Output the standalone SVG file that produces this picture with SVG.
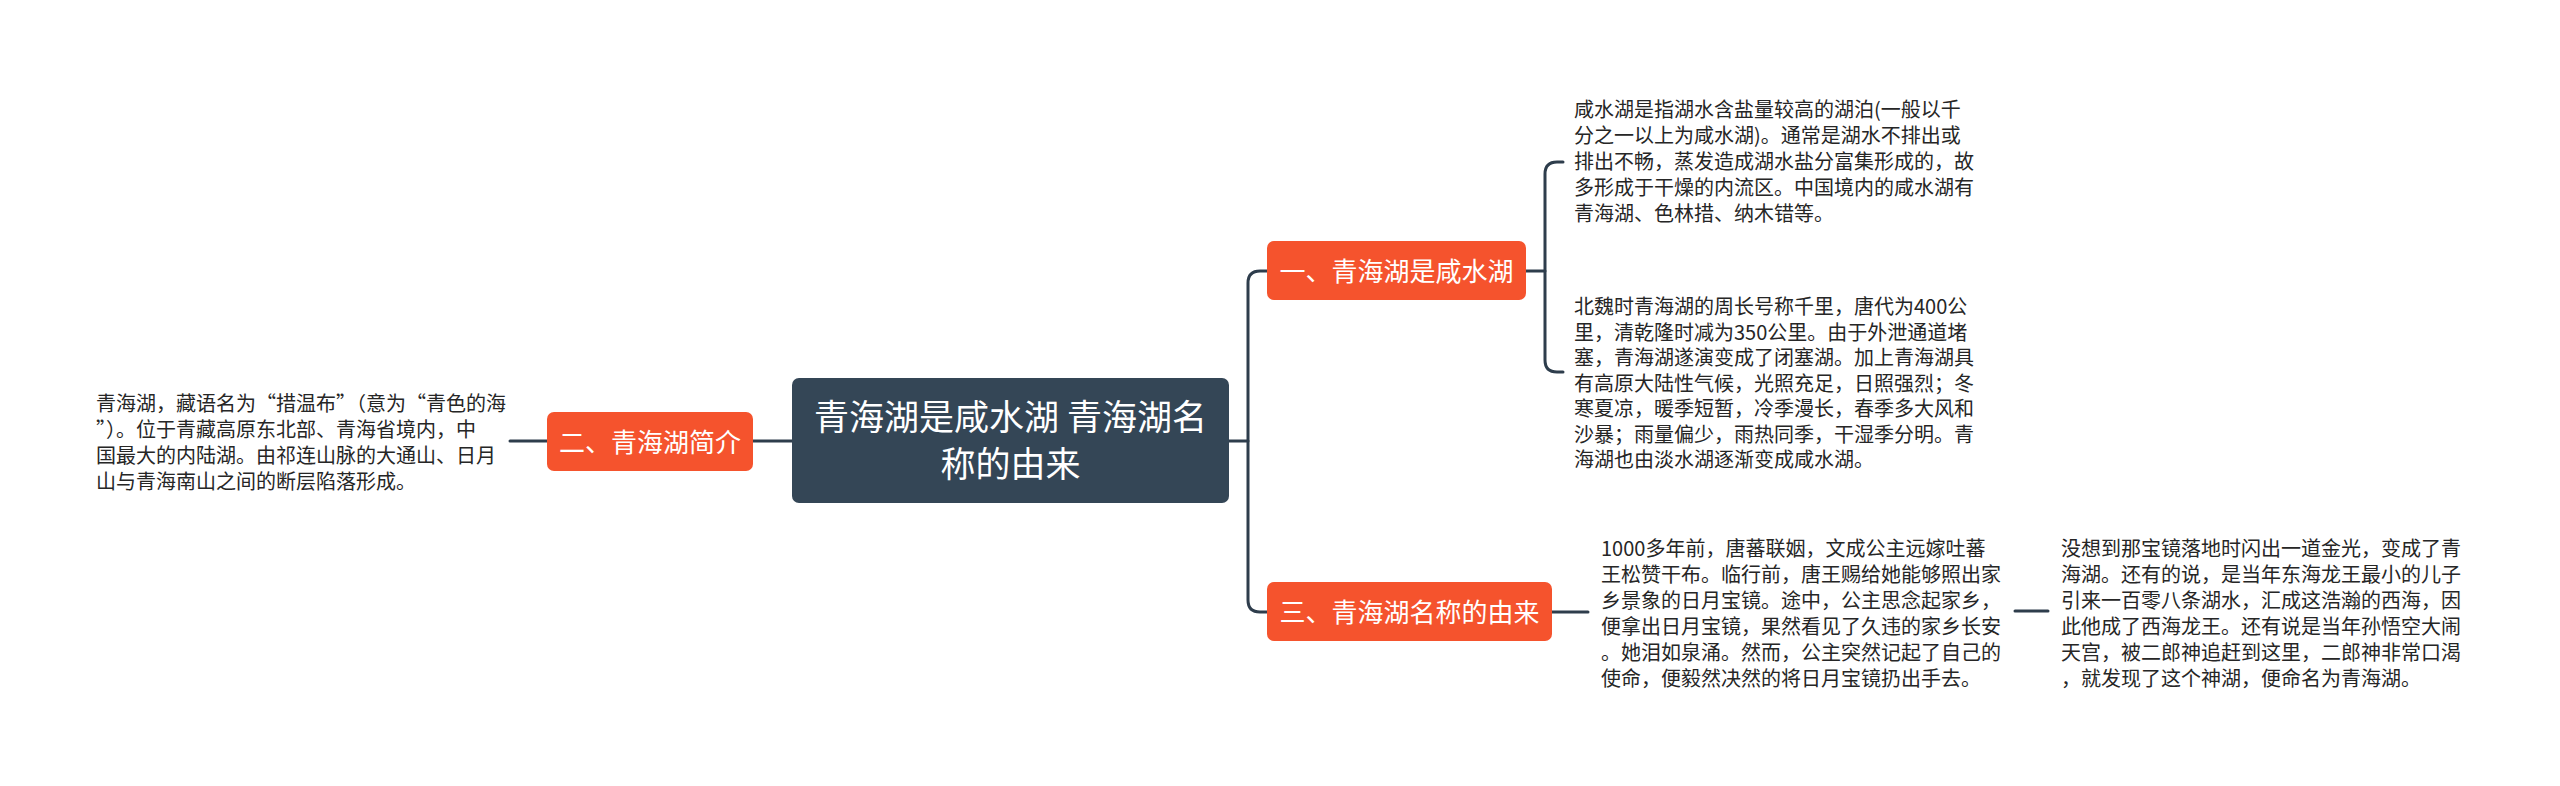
<svg xmlns="http://www.w3.org/2000/svg" width="2560" height="786" viewBox="0 0 2560 786">
<style>
.ln{fill:none;stroke:#2e3d4c;stroke-width:3;stroke-linecap:round}
.org{fill:#f5532d}
.lbl{font-family:"Noto Sans CJK SC","Noto Sans",sans-serif;font-size:26px;fill:#ffffff;text-anchor:middle}
.ctr{font-family:"Noto Sans CJK SC","Noto Sans",sans-serif;font-size:35px;fill:#ffffff;text-anchor:middle}
.txt{font-family:"Noto Sans CJK SC","Noto Sans",sans-serif;font-size:20px;fill:#262626}
</style>
<rect width="2560" height="786" fill="#ffffff"/>
<g id="connectors">
<path class="ln" d="M753,441 H792"/>
<path class="ln" d="M547,441 H510"/>
<path class="ln" d="M1229,441 H1248"/>
<path class="ln" d="M1267,271 H1260 Q1248,271 1248,283 V600 Q1248,612 1260,612 H1267"/>
<path class="ln" d="M1526,271 H1545"/>
<path class="ln" d="M1563,162 H1557 Q1545,162 1545,174 V360 Q1545,372 1557,372 H1563"/>
<path class="ln" d="M1552,612 H1588"/>
<path class="ln" d="M2015,611 H2048"/>
</g>
<g id="central">
<rect x="792" y="378" width="437" height="125" rx="7" fill="#344656"/>
<text class="ctr" x="1010.5" y="430">青海湖是咸水湖 青海湖名</text>
<text class="ctr" x="1010.5" y="477">称的由来</text>
</g>
<g id="node1">
<rect class="org" x="1267" y="241" width="259" height="59" rx="7"/>
<text class="lbl" x="1396.5" y="280.5">一、青海湖是咸水湖</text>
</g>
<g id="node2">
<rect class="org" x="547" y="412" width="206" height="59" rx="7"/>
<text class="lbl" x="650" y="451.5">二、青海湖简介</text>
</g>
<g id="node3">
<rect class="org" x="1267" y="582" width="285" height="59" rx="7"/>
<text class="lbl" x="1409.5" y="621.5">三、青海湖名称的由来</text>
</g>
<g id="text-intro">
<text class="txt" x="96" y="410.6">青海湖，藏语名为“措温布”（意为“青色的海</text>
<text class="txt" x="96" y="436.6">”）。位于青藏高原东北部、青海省境内，中</text>
<text class="txt" x="96" y="462.6">国最大的内陆湖。由祁连山脉的大通山、日月</text>
<text class="txt" x="96" y="488.6">山与青海南山之间的断层陷落形成。</text>
</g>
<g id="text-salt1">
<text class="txt" x="1574" y="117">咸水湖是指湖水含盐量较高的湖泊(一般以千</text>
<text class="txt" x="1574" y="143">分之一以上为咸水湖)。通常是湖水不排出或</text>
<text class="txt" x="1574" y="169">排出不畅，蒸发造成湖水盐分富集形成的，故</text>
<text class="txt" x="1574" y="195">多形成于干燥的内流区。中国境内的咸水湖有</text>
<text class="txt" x="1574" y="221">青海湖、色林措、纳木错等。</text>
</g>
<g id="text-salt2">
<text class="txt" x="1574" y="314">北魏时青海湖的周长号称千里，唐代为400公</text>
<text class="txt" x="1574" y="339.5">里，清乾隆时减为350公里。由于外泄通道堵</text>
<text class="txt" x="1574" y="365">塞，青海湖遂演变成了闭塞湖。加上青海湖具</text>
<text class="txt" x="1574" y="390.5">有高原大陆性气候，光照充足，日照强烈；冬</text>
<text class="txt" x="1574" y="416">寒夏凉，暖季短暂，冷季漫长，春季多大风和</text>
<text class="txt" x="1574" y="441.5">沙暴；雨量偏少，雨热同季，干湿季分明。青</text>
<text class="txt" x="1574" y="467">海湖也由淡水湖逐渐变成咸水湖。</text>
</g>
<g id="text-name1">
<text class="txt" x="1601" y="555.6">1000多年前，唐蕃联姻，文成公主远嫁吐蕃</text>
<text class="txt" x="1601" y="581.6">王松赞干布。临行前，唐王赐给她能够照出家</text>
<text class="txt" x="1601" y="607.6">乡景象的日月宝镜。途中，公主思念起家乡，</text>
<text class="txt" x="1601" y="633.6">便拿出日月宝镜，果然看见了久违的家乡长安</text>
<text class="txt" x="1601" y="659.6">。她泪如泉涌。然而，公主突然记起了自己的</text>
<text class="txt" x="1601" y="685.6">使命，便毅然决然的将日月宝镜扔出手去。</text>
</g>
<g id="text-name2">
<text class="txt" x="2061" y="555.6">没想到那宝镜落地时闪出一道金光，变成了青</text>
<text class="txt" x="2061" y="581.6">海湖。还有的说，是当年东海龙王最小的儿子</text>
<text class="txt" x="2061" y="607.6">引来一百零八条湖水，汇成这浩瀚的西海，因</text>
<text class="txt" x="2061" y="633.6">此他成了西海龙王。还有说是当年孙悟空大闹</text>
<text class="txt" x="2061" y="659.6">天宫，被二郎神追赶到这里，二郎神非常口渴</text>
<text class="txt" x="2061" y="685.6">，就发现了这个神湖，便命名为青海湖。</text>
</g>
</svg>
